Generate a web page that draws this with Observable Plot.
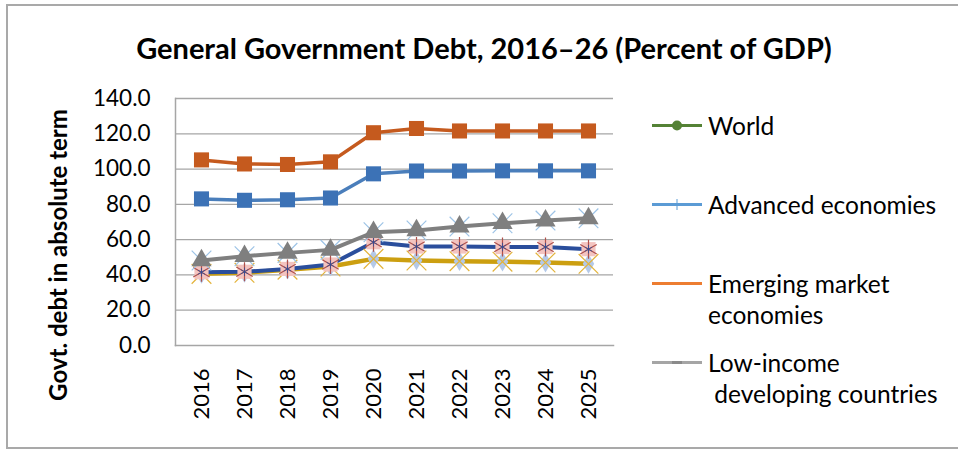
<!DOCTYPE html>
<html>
<head>
<meta charset="utf-8">
<script src="https://cdn.jsdelivr.net/npm/d3@7"></script>
<script src="https://cdn.jsdelivr.net/npm/@observablehq/plot@0.6"></script>
<style>
  html, body { margin: 0; padding: 0; background: #fff; }
  #wrap { position: relative; width: 958px; height: 450px; overflow: hidden; font-family: Lato, "Noto Sans", sans-serif; color: #000; }
  #border { position: absolute; left: 6px; top: 4px; width: 1000px; height: 445px; border: 2px solid #a9a9a9; box-sizing: border-box; }
  #title { position: absolute; left: 0; width: 968px; top: 28px; height: 40px; text-align: center; font-weight: bold; font-size: 29px; line-height: 40px; }
  #ylabel { position: absolute; left: 57px; top: 255px; transform: translate(-50%, -50%) rotate(-90deg); white-space: nowrap; font-weight: bold; font-size: 24px; }
  #plot { position: absolute; left: 0; top: 0; }
  #legend { position: absolute; left: 0; top: 0; }
  .leg { position: absolute; left: 652px; font-size: 24.5px; line-height: 31px; }
  .leg svg { position: absolute; left: 0; }
  .leg span { position: absolute; left: 56px; white-space: nowrap; }
</style>
</head>
<body>
<div id="wrap">
  <div id="border"></div>
  <div id="title">General Government Debt, 2016–26 (Percent of GDP)</div>
  <div id="ylabel">Govt. debt in absolute term</div>
  <div id="plot"></div>
  <div id="legend"></div>
</div>
<script>
// ---- data ----
const years = [2016, 2017, 2018, 2019, 2020, 2021, 2022, 2023, 2024, 2025];
const yTicks = [0, 20, 40, 60, 80, 100, 120, 140];
const seriesOrange = [105.2, 102.9, 102.6, 104.1, 120.6, 123.0, 121.6, 121.6, 121.6, 121.6];
const seriesBlue   = [83.1, 82.3, 82.6, 83.6, 97.3, 98.9, 98.9, 99.0, 99.0, 99.0];
const seriesGrey   = [48.2, 50.6, 52.5, 54.2, 64.2, 65.2, 67.4, 69.3, 70.8, 72.1];
const seriesNavy   = [41.5, 41.8, 43.4, 45.9, 58.5, 56.1, 56.1, 55.8, 55.8, 54.6];
const seriesGold   = [40.6, 41.2, 43.0, 44.8, 49.1, 48.2, 47.8, 47.5, 47.0, 46.3];
const legendLabels = ["World", "Advanced economies", "Emerging market\neconomies", "Low-income\n developing countries"];
const legendColors = ["#548235", "#5B9BD5", "#ED7D31", "#A5A5A5"];
const legendMarkers = ["dot", "tick", "none", "dash"];

const toRows = (vals) => years.map((yr, i) => ({year: String(yr), value: vals[i]}));
const orange = toRows(seriesOrange), blue = toRows(seriesBlue), grey = toRows(seriesGrey),
      navy = toRows(seriesNavy), gold = toRows(seriesGold);

const chart = Plot.plot({
  width: 958, height: 450,
  marginTop: 98, marginRight: 345, marginBottom: 105, marginLeft: 175,
  style: {fontFamily: "Lato, 'Noto Sans', sans-serif", background: "transparent", color: "#000"},
  x: {type: "point", domain: years.map(String), padding: 0.5},
  y: {domain: [0, 140]},
  marks: [
    Plot.gridY(yTicks.filter(d => d > 0), {stroke: "#a6a6a6", strokeOpacity: 1, strokeWidth: 1.3}),
    Plot.frame({anchor: "left", stroke: "#a6a6a6", strokeWidth: 1.5}),
    Plot.frame({anchor: "bottom", stroke: "#a6a6a6", strokeWidth: 1.5}),
    Plot.axisY({ticks: yTicks, tickFormat: d => d.toFixed(1), tickSize: 0, tickPadding: 25, fontSize: 22.5, label: null}),
    Plot.axisX({tickRotate: -90, tickSize: 0, tickPadding: 23, fontSize: 22, label: null}),
    // lines
    Plot.line(gold, {x: "year", y: "value", stroke: "#CC9F10", strokeWidth: 4.5}),
    Plot.line(navy, {x: "year", y: "value", stroke: "#2A4E9C", strokeWidth: 4}),
    Plot.line(grey, {x: "year", y: "value", stroke: "#7f7f7f", strokeWidth: 4}),
    Plot.line(blue, {x: "year", y: "value", stroke: "#4A7EBB", strokeWidth: 3.5}),
    Plot.line(orange, {x: "year", y: "value", stroke: "#C55A1E", strokeWidth: 3.5}),
    // markers
    Plot.dot(gold, {x: "year", y: "value", symbol: "diamond", fill: "#B4C9E8", r: 6}),
    Plot.dot(gold, {x: "year", y: "value", symbol: "times", stroke: "#E3B33A", strokeWidth: 1.2, r: 9}),
    Plot.dot(navy, {x: "year", y: "value", symbol: "square", fill: "#F3C4C0", r: 8}),
    Plot.dot(navy, {x: "year", y: "value", symbol: "asterisk", stroke: "#B0504A", strokeWidth: 1.2, r: 9}),
    Plot.dot(navy, {x: "year", y: "value", symbol: "asterisk", stroke: "#2A4E9C", strokeWidth: 0.8, r: 4}),
    Plot.dot(grey, {x: "year", y: "value", symbol: "times", stroke: "#9DC3E6", strokeWidth: 1.2, r: 9}),
    Plot.dot(grey, {x: "year", y: "value", symbol: "triangle", fill: "#7f7f7f", r: 7.5}),
    Plot.dot(blue, {x: "year", y: "value", symbol: "square", fill: "#3C72B6", r: 8.5}),
    Plot.dot(orange, {x: "year", y: "value", symbol: "square", fill: "#C55A1E", r: 8.5})
  ]
});
document.getElementById("plot").appendChild(chart);

// ---- legend ----
const legendY = [125, 204, 283, 362];
const legend = document.getElementById("legend");
legendLabels.forEach((lab, i) => {
  const item = document.createElement("div");
  item.className = "leg";
  item.style.top = (legendY[i] - 15.5) + "px";
  let marker = "";
  if (legendMarkers[i] === "dot") marker = `<circle cx="25" cy="15.5" r="5" fill="${legendColors[i]}"/>`;
  if (legendMarkers[i] === "tick") marker = `<line x1="25" x2="25" y1="10" y2="21" stroke="${legendColors[i]}" stroke-width="1"/>`;
  if (legendMarkers[i] === "dash") marker = `<line x1="20" x2="30" y1="15.5" y2="15.5" stroke="#8a8a8a" stroke-width="3"/>`;
  item.innerHTML = `<svg width="52" height="31"><line x1="0" x2="50" y1="15.5" y2="15.5" stroke="${legendColors[i]}" stroke-width="3"/>${marker}</svg>` +
    lab.split("\n").map((t, j) => `<span style="top:${j * 31}px">${t.replace(/^ /, "&nbsp;")}</span>`).join("");
  legend.appendChild(item);
});
</script>
</body>
</html>
